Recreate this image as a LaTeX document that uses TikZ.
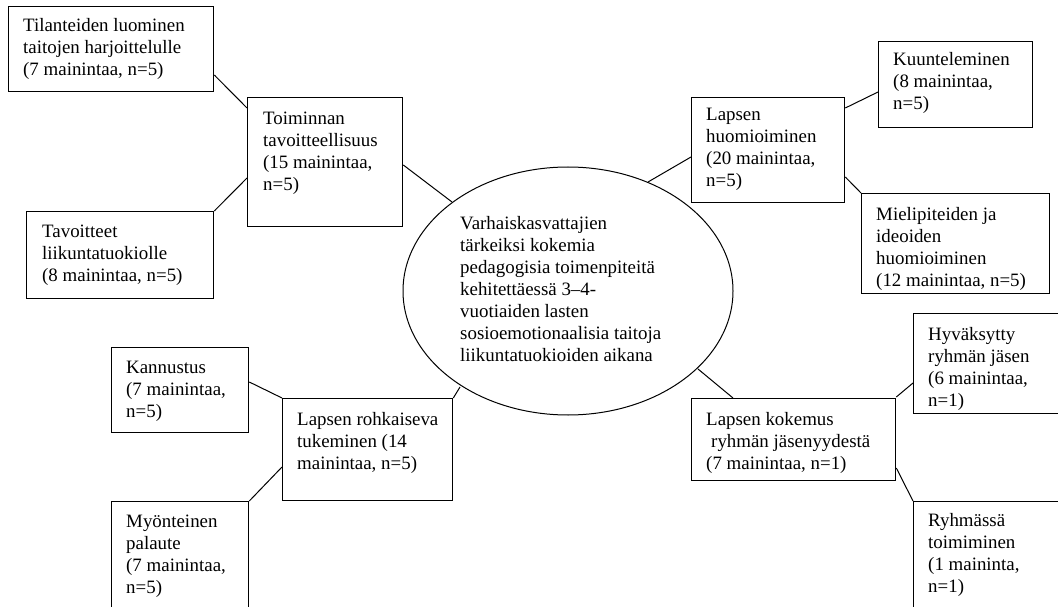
\documentclass[tikz,border=0pt]{standalone}
\usepackage{fontspec}
\setmainfont{Liberation Serif}
\usetikzlibrary{calc,shapes.geometric}
\begin{document}
\begin{tikzpicture}[x=1pt,y=-1pt,
  box/.style={draw, line width=1.3pt, inner sep=0pt, anchor=north west},
  txt/.style={inner sep=0pt, anchor=north west, align=left, font=\fontsize{18.9}{22}\selectfont},
  conn/.style={line width=1pt}]
\useasboundingbox (0,0) rectangle (1058,607);
\fill[white] (0,0) rectangle (1058,607);
\clip (0,0) rectangle (1058,607);
% boxes
\node[box, minimum width=205pt, minimum height=85pt] (tila) at (8,6) {};
\node[box, minimum width=155pt, minimum height=129pt] (toim) at (247,97) {};
\node[box, minimum width=187pt, minimum height=87pt] (tavo) at (26,211) {};
\node[box, minimum width=153pt, minimum height=105pt] (lhuo) at (691,97) {};
\node[box, minimum width=154pt, minimum height=86pt] (kuun) at (878,41) {};
\node[box, minimum width=188pt, minimum height=100pt] (miel) at (861,193) {};
\node[box, minimum width=157pt, minimum height=100pt] (hyva) at (913,313) {};
\node[box, minimum width=204pt, minimum height=82pt] (koke) at (691,398) {};
\node[box, minimum width=157pt, minimum height=119pt] (ryhm) at (913,501) {};
\node[box, minimum width=137pt, minimum height=85pt] (kann) at (111,347) {};
\node[box, minimum width=170pt, minimum height=102pt] (rohk) at (282,398) {};
\node[box, minimum width=137pt, minimum height=119pt] (myon) at (111,501) {};
\node[draw, ellipse, line width=1pt, inner sep=0pt, minimum width=330pt, minimum height=248pt] (ell) at (568,291) {};
% texts
\node[txt] (tilat) at (23,18) {Tilanteiden luominen\\taitojen harjoittelulle\\(7 mainintaa, n=5)};
\node[txt] (toimt) at (263,112) {Toiminnan\\tavoitteellisuus\\(15 mainintaa,\\n=5)};
\node[txt] (tavot) at (42,225) {Tavoitteet\\liikuntatuokiolle\\(8 mainintaa, n=5)};
\node[txt] (lhuot) at (706,108) {Lapsen\\huomioiminen\\(20 mainintaa,\\n=5)};
\node[txt] (kuunt) at (893,52) {Kuunteleminen\\(8 mainintaa,\\n=5)};
\node[txt] (mielt) at (876,207) {Mielipiteiden ja\\ideoiden\\huomioiminen\\(12 mainintaa, n=5)};
\node[txt] (hyvat) at (928,327) {Hyväksytty\\ryhmän jäsen\\(6 mainintaa,\\n=1)};
\node[txt] (koket) at (706,412) {Lapsen kokemus\\\hspace*{5pt}ryhmän jäsenyydestä\\(7 mainintaa, n=1)};
\node[txt] (ryhmt) at (928,513) {Ryhmässä\\toimiminen\\(1 maininta,\\n=1)};
\node[txt] (kannt) at (126,361) {Kannustus\\(7 mainintaa,\\n=5)};
\node[txt] (rohkt) at (297,412) {Lapsen rohkaiseva\\tukeminen (14\\mainintaa, n=5)};
\node[txt] (myont) at (126,515) {Myönteinen\\palaute\\(7 mainintaa,\\n=5)};
\node[txt] (ellt) at (460,216) {Varhaiskasvattajien\\tärkeiksi kokemia\\pedagogisia toimenpiteitä\\kehitettäessä 3–4-\\vuotiaiden lasten\\sosioemotionaalisia taitoja\\liikuntatuokioiden aikana};
% connectors
\draw[conn] ($(tila.north east)+(0,69)$) -- ($(toim.north west)+(0,11)$);
\draw[conn] (tavo.north east) -- ($(toim.north west)+(0,81)$);
\draw[conn] ($(toim.north east)+(0,68)$) -- ($(ell.center)+(-116,-89)$);
\draw[conn] ($(ell.center)+(80,-109)$) -- ($(lhuo.north west)+(0,60)$);
\draw[conn] ($(lhuo.north east)+(0,11)$) -- ($(kuun.north west)+(0,51)$);
\draw[conn] ($(lhuo.north east)+(0,80)$) -- (miel.north west);
\draw[conn] ($(ell.center)+(130,78)$) -- ($(koke.north west)+(42,0)$);
\draw[conn] ($(koke.north east)+(0,-1)$) -- ($(hyva.north west)+(0,70)$);
\draw[conn] ($(koke.north east)+(0,70)$) -- (ryhm.north west);
\draw[conn] ($(kann.north east)+(0,35)$) -- (rohk.north west);
\draw[conn] (myon.north east) -- ($(rohk.north west)+(0,69)$);
\draw[conn] (rohk.north east) -- ($(ell.center)+(-108,96)$);
\end{tikzpicture}
\end{document}
